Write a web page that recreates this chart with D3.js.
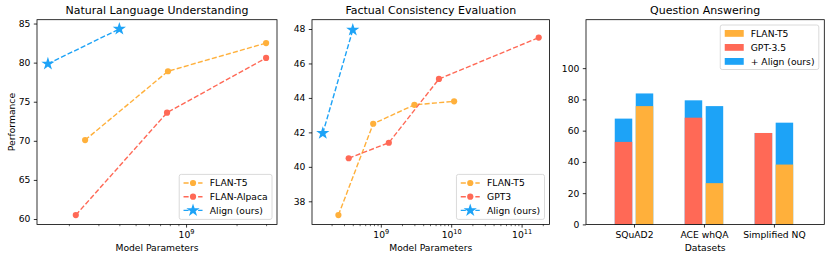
<!DOCTYPE html>
<meta charset="utf-8">
<style>
body { margin: 0; background: #fff; }
svg { font-family: "DejaVu Sans", sans-serif; }
.tick line { stroke: #000; stroke-width: 0.8px; }
.tick text { fill: #000; }
</style>
<body>
<script src="https://cdn.jsdelivr.net/npm/d3@7"></script>
<script>

// ---- data ----
// Natural Language Understanding
var nluT5Params = [2.5e8, 7.8e8, 3e9],
    nluT5 = [70.1, 78.9, 82.5],
    nluAlpacaParams = [2.2e8, 7.7e8, 3e9],
    nluAlpaca = [60.5, 73.6, 80.6],
    nluAlignParams = [1.5e8, 4e8],
    nluAlign = [79.85, 84.3];

// Factual Consistency Evaluation
var fceT5Params = [2.5e8, 7.8e8, 3e9, 1.1e10],
    fceT5 = [37.2, 42.5, 43.6, 43.8],
    fceGptParams = [3.5e8, 1.3e9, 6.7e9, 1.75e11],
    fceGpt = [40.5, 41.4, 45.1, 47.5],
    fceAlignParams = [1.5e8, 4e8],
    fceAlign = [41.95, 47.95];

// Question Answering
var qaDatasets = ["SQuAD2", "ACE whQA", "Simplified NQ"],
    qaGpt = [52.8, 68.3, 58.5],
    qaGptAlign = [67.7, 79.4, 58.5],
    qaT5 = [75.7, 26.4, 38.3],
    qaT5Align = [83.8, 75.7, 65.1];

var nluYTicks = [60, 65, 70, 75, 80, 85],
    fceYTicks = [38, 40, 42, 44, 46, 48],
    qaYTicks = [0, 20, 40, 60, 80, 100];

var orange = "#FFB03B", red = "#FF6956", blue = "#1DA3F7";

var W = 830, H = 260, yTop = 19.7, yBot = 224.4, fs = 9.2;

var svg = d3.select("body").append("svg").attr("width", W).attr("height", H);

function pad(lo, hi) { var m = (hi - lo) * 0.05; return [lo - m, hi + m]; }
function padLog(lo, hi) {
  var a = Math.log10(lo), b = Math.log10(hi), m = (b - a) * 0.05;
  return [Math.pow(10, a - m), Math.pow(10, b + m)];
}

function styleAxis(g) {
  g.attr("font-size", fs).attr("font-family", null);
  g.select(".domain").remove();
}

function frame(x0, x1, title) {
  svg.append("rect").attr("x", x0).attr("y", yTop).attr("width", x1 - x0).attr("height", yBot - yTop)
    .attr("fill", "none").attr("stroke", "#000").attr("stroke-width", 0.8);
  svg.append("text").attr("x", (x0 + x1) / 2).attr("y", 14.3).attr("text-anchor", "middle")
    .attr("font-size", 11).text(title);
}

function minors(domain) {
  var out = [], e, k;
  for (e = Math.floor(Math.log10(domain[0])); e <= Math.ceil(Math.log10(domain[1])); e++)
    for (k = 2; k <= 9; k++) {
      var v = k * Math.pow(10, e);
      if (v >= domain[0] && v <= domain[1]) out.push(v);
    }
  return out;
}

function marker(cx, cy, s, g) {
  g = g || svg;
  if (s.star) {
    g.append("path").attr("d", d3.symbol(d3.symbolStar, 54)())
      .attr("transform", "translate(" + cx + "," + cy + ")").attr("fill", s.color);
  } else {
    g.append("circle").attr("cx", cx).attr("cy", cy).attr("r", 3.1).attr("fill", s.color);
  }
}

function linePanel(opt) {
  var x = d3.scaleLog().domain(opt.xDomain).range([opt.x0, opt.x1]);
  var y = d3.scaleLinear().domain(opt.yDomain).range([yBot, yTop]);

  svg.append("g").attr("transform", "translate(0," + yBot + ")")
    .call(d3.axisBottom(x).tickValues(minors(opt.xDomain)).tickSize(1.8).tickSizeOuter(0).tickFormat(""))
    .call(styleAxis)
    .selectAll(".tick line").style("stroke-width", "0.6px");

  svg.append("g").attr("transform", "translate(0," + yBot + ")")
    .call(d3.axisBottom(x).tickValues(opt.xMajors).tickSize(3.2).tickPadding(3.4).tickSizeOuter(0))
    .call(styleAxis)
    .selectAll(".tick text").each(function(d) {
      var t = d3.select(this).text(null);
      t.append("tspan").text("10");
      t.append("tspan").attr("dy", -4).attr("font-size", 6.6).text(Math.round(Math.log10(d)));
    });

  svg.append("g").attr("transform", "translate(" + opt.x0 + ",0)")
    .call(d3.axisLeft(y).tickValues(opt.yTicks).tickSize(3.2).tickPadding(3.4).tickSizeOuter(0))
    .call(styleAxis);

  frame(opt.x0, opt.x1, opt.title);

  svg.append("text").attr("x", (opt.x0 + opt.x1) / 2).attr("y", 251).attr("text-anchor", "middle")
    .attr("font-size", fs).text("Model Parameters");

  var line = d3.line().x(function(d) { return x(d[0]); }).y(function(d) { return y(d[1]); });

  opt.series.forEach(function(s) {
    var pts = d3.zip(s.xs, s.ys);
    svg.append("path").attr("d", line(pts)).attr("fill", "none").attr("stroke", s.color)
      .attr("stroke-width", 1.4).attr("stroke-dasharray", "5.1,2.2");
    pts.forEach(function(p) { marker(x(p[0]), y(p[1]), s); });
  });

  // legend, lower right
  var lg = svg.append("g");
  var texts = opt.series.map(function(s) {
    return lg.append("text").attr("font-size", fs).text(s.name);
  });
  var tw = d3.max(texts, function(t) { return t.node().getComputedTextLength(); });
  var bw = 4.3 + 19 + 7.3 + tw + 4.3, bh = 45;
  var bx = opt.x1 - 5 - bw, by = yBot - 5 - bh;
  lg.insert("rect", ":first-child").attr("x", bx).attr("y", by).attr("width", bw).attr("height", bh)
    .attr("rx", 2).attr("fill", "#fff").attr("fill-opacity", 0.8).attr("stroke", "#d0d0d0").attr("stroke-width", 0.8);
  opt.series.forEach(function(s, i) {
    var ry = by + 8.6 + i * 13.7;
    texts[i].attr("x", bx + 4.3 + 19 + 7.3).attr("y", ry + 3.3);
    lg.append("line").attr("x1", bx + 4.3).attr("x2", bx + 4.3 + 19).attr("y1", ry).attr("y2", ry)
      .attr("stroke", s.color).attr("stroke-width", 1.4).attr("stroke-dasharray", "5.1,2.2");
    marker(bx + 4.3 + 9.5, ry, s, lg);
  });
}

// ---- panel 1 ----
linePanel({
  x0: 37, x1: 277, title: "Natural Language Understanding",
  xDomain: padLog(1.5e8, 3e9), xMajors: [1e9],
  yDomain: pad(60.5, 84.3), yTicks: nluYTicks,
  series: [
    { name: "FLAN-T5", xs: nluT5Params, ys: nluT5, color: orange },
    { name: "FLAN-Alpaca", xs: nluAlpacaParams, ys: nluAlpaca, color: red },
    { name: "Align (ours)", xs: nluAlignParams, ys: nluAlign, color: blue, star: true }
  ]
});

svg.append("text").attr("transform", "translate(15," + (yTop + yBot) / 2 + ") rotate(-90)")
  .attr("text-anchor", "middle").attr("font-size", fs).text("Performance");

// ---- panel 2 ----
linePanel({
  x0: 312, x1: 549.5, title: "Factual Consistency Evaluation",
  xDomain: padLog(1.5e8, 1.75e11), xMajors: [1e9, 1e10, 1e11],
  yDomain: pad(37.2, 48.0), yTicks: fceYTicks,
  series: [
    { name: "FLAN-T5", xs: fceT5Params, ys: fceT5, color: orange },
    { name: "GPT3", xs: fceGptParams, ys: fceGpt, color: red },
    { name: "Align (ours)", xs: fceAlignParams, ys: fceAlign, color: blue, star: true }
  ]
});

// ---- panel 3 ----
(function() {
  var x0 = 586, x1 = 824.3;
  var x = d3.scaleLinear().domain([-0.686, 2.72]).range([x0, x1]);
  var y = d3.scaleLinear().domain([0, 131]).range([yBot, yTop]);
  var bw = 0.25, off = 0.15;

  svg.append("g").attr("transform", "translate(0," + yBot + ")")
    .call(d3.axisBottom(x).tickValues([0, 1, 2]).tickSize(3.2).tickPadding(3.4).tickSizeOuter(0)
      .tickFormat(function(i) { return qaDatasets[i]; }))
    .call(styleAxis);
  svg.append("g").attr("transform", "translate(" + x0 + ",0)")
    .call(d3.axisLeft(y).tickValues(qaYTicks).tickSize(3.2).tickPadding(3.4).tickSizeOuter(0))
    .call(styleAxis);

  function bars(vals, shift, color) {
    svg.append("g").selectAll("rect").data(vals).enter().append("rect")
      .attr("x", function(d, i) { return x(i + shift - bw / 2); })
      .attr("width", x(bw) - x(0))
      .attr("y", function(d) { return y(d); })
      .attr("height", function(d) { return y(0) - y(d); })
      .attr("fill", color);
  }
  bars(qaGptAlign, -off, blue);
  bars(qaT5Align, off, blue);
  bars(qaGpt, -off, red);
  bars(qaT5, off, orange);

  frame(x0, x1, "Question Answering");
  svg.append("text").attr("x", (x0 + x1) / 2).attr("y", 251).attr("text-anchor", "middle")
    .attr("font-size", fs).text("Datasets");

  var items = [["FLAN-T5", orange], ["GPT-3.5", red], ["+ Align (ours)", blue]];
  var lg = svg.append("g");
  var texts = items.map(function(it) { return lg.append("text").attr("font-size", fs).text(it[0]); });
  var tw = d3.max(texts, function(t) { return t.node().getComputedTextLength(); });
  var w = 4.5 + 19 + 7 + tw + 4.3, h = 44.5;
  var bx = x1 - 5.5 - w, by = yTop + 5.3;
  lg.insert("rect", ":first-child").attr("x", bx).attr("y", by).attr("width", w).attr("height", h)
    .attr("rx", 2).attr("fill", "#fff").attr("fill-opacity", 0.8).attr("stroke", "#d0d0d0").attr("stroke-width", 0.8);
  items.forEach(function(it, i) {
    var ry = by + 8.4 + i * 14;
    lg.append("rect").attr("x", bx + 4.5).attr("y", ry - 3.4).attr("width", 19).attr("height", 6.8).attr("fill", it[1]);
    texts[i].attr("x", bx + 4.5 + 19 + 7).attr("y", ry + 3.3);
  });
})();

</script>
</body>
